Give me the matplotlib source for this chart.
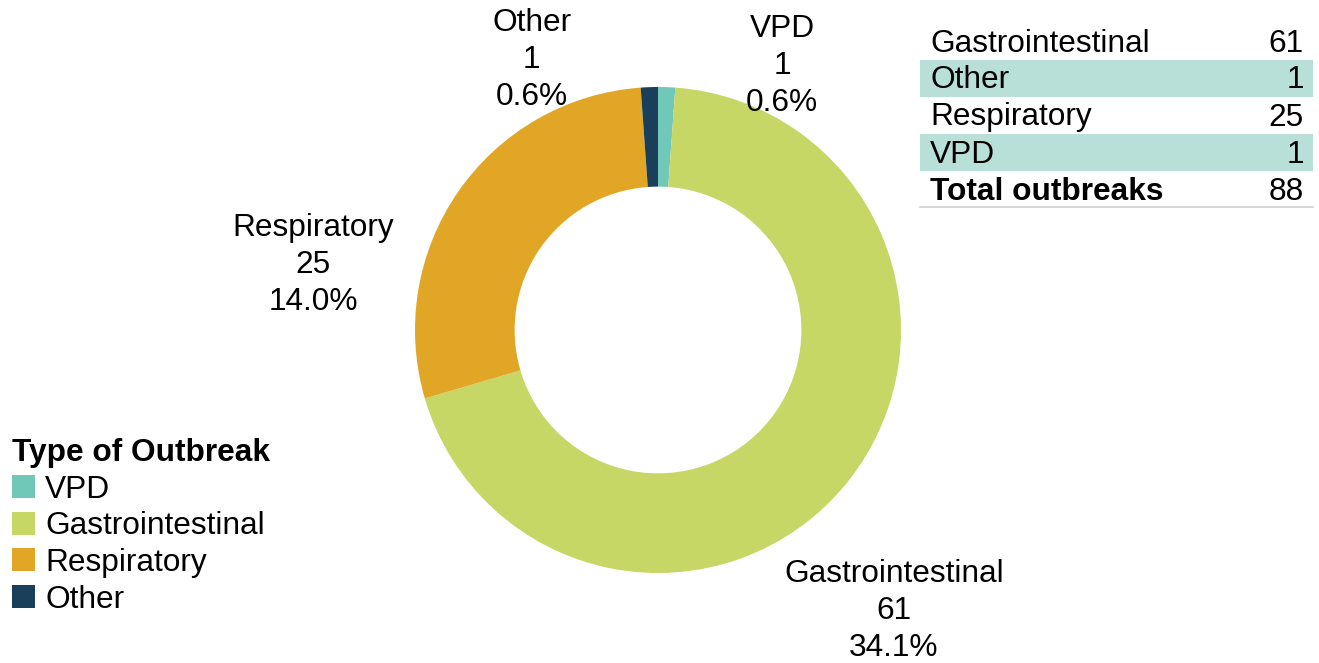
import matplotlib
matplotlib.use("Agg")
import matplotlib.pyplot as plt
from matplotlib.patches import Rectangle
from matplotlib.lines import Line2D

plt.rcParams['font.family'] = ['Liberation Sans', 'DejaVu Sans']

# dados
categorias = ["VPD", "Gastrointestinal", "Respiratory", "Other"]
valores = [1, 61, 25, 1]
percentuais = ["0.6%", "34.1%", "14.0%", "0.6%"]
cores = ["#6fc8b8", "#c7d766", "#e2a626", "#1a3f5a"]

tabela_nomes = ["Gastrointestinal", "Other", "Respiratory", "VPD"]
tabela_valores = [61, 1, 25, 1]
total_nome = "Total outbreaks"
total_valor = 88

# posição dos rótulos (unidades do raio)
pos_rotulos = {"VPD": (0.51, 1.088), "Gastrointestinal": (0.97, -1.158),
               "Respiratory": (-1.42, 0.268), "Other": (-0.52, 1.112)}

W, H = 1319, 663
fs = 22.8
fig = plt.figure(figsize=(W / 100, H / 100), dpi=100)

def px(x, y):
    return x / W, 1 - y / H

# donut
cx, cy, r = 658, 330, 243
ax = fig.add_axes([(cx - r) / W, (H - cy - r) / H, 2 * r / W, 2 * r / H])
wedges, _ = ax.pie(valores, colors=cores, startangle=90, counterclock=False,
                   radius=1, wedgeprops=dict(width=0.41, linewidth=0))
ax.set_xlim(-1, 1)
ax.set_ylim(-1, 1)
ax.axis("off")

for cat, v, p in zip(categorias, valores, percentuais):
    x, y = pos_rotulos[cat]
    ax.text(x, y, f"{cat}\n{v}\n{p}", ha="center", va="center",
            fontsize=fs, linespacing=1.3, clip_on=False)

# tabela
x0, x1 = 920, 1313
y_top = 23
row_h = 37
for i, (nome, val) in enumerate(zip(tabela_nomes, tabela_valores)):
    yc = y_top + row_h * i + row_h / 2 + 2
    if i % 2 == 1:
        fig.patches.append(Rectangle(px(x0, y_top + row_h * (i + 1)), (x1 - x0) / W, row_h / H,
                                     transform=fig.transFigure, facecolor="#b8e0d8",
                                     edgecolor="none"))
    fig.text(*px(930, yc), nome, ha="left", va="center", fontsize=fs)
    fig.text(*px(1304, yc), str(val), ha="right", va="center", fontsize=fs)
yc = y_top + row_h * 4 + row_h / 2 + 2
fig.text(*px(930, yc), total_nome, ha="left", va="center", fontsize=fs, fontweight="bold")
fig.text(*px(1304, yc), str(total_valor), ha="right", va="center", fontsize=fs)
fig.lines.append(Line2D([x0 / W, x1 / W], [1 - 207 / H, 1 - 207 / H],
                        transform=fig.transFigure, color="#d0d0d0", linewidth=1.2))

# legenda
leg = fig.legend(wedges, categorias, title="Type of Outbreak", loc="upper left",
                 bbox_to_anchor=px(12, 438), frameon=False, fontsize=fs,
                 title_fontproperties={"weight": "bold", "size": fs},
                 handlelength=0.73, handleheight=0.73, handletextpad=0.32,
                 labelspacing=0.21, borderpad=0, borderaxespad=0,
                 alignment="left")

fig.savefig("out.png", dpi=100)
